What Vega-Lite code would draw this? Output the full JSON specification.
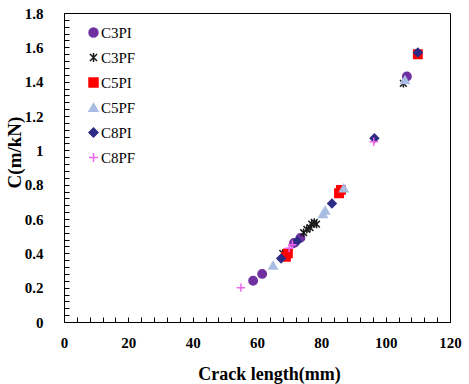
{
  "$schema": "https://vega.github.io/schema/vega-lite/v6.json",
  "width": 386,
  "height": 309,
  "autosize": {"type": "none"},
  "padding": {"left": 64, "top": 13, "right": 19, "bottom": 62},
  "background": "white",
  "config": {
    "view": {"stroke": "black", "strokeWidth": 1},
    "font": "Liberation Serif"
  },
  "data": {
    "values": [
      {"series": "C3PI", "len": 58.8, "c": 0.24},
      {"series": "C3PI", "len": 61.6, "c": 0.28},
      {"series": "C3PI", "len": 71.5, "c": 0.46},
      {"series": "C3PI", "len": 73.5, "c": 0.49},
      {"series": "C3PI", "len": 106.6, "c": 1.43},
      {"series": "C3PF", "len": 68.0, "c": 0.40},
      {"series": "C3PF", "len": 74.5, "c": 0.52},
      {"series": "C3PF", "len": 75.5, "c": 0.54},
      {"series": "C3PF", "len": 76.5, "c": 0.55},
      {"series": "C3PF", "len": 77.0, "c": 0.57},
      {"series": "C3PF", "len": 77.8, "c": 0.58},
      {"series": "C3PF", "len": 78.5, "c": 0.57},
      {"series": "C3PF", "len": 105.5, "c": 1.39},
      {"series": "C5PI", "len": 69.0, "c": 0.38},
      {"series": "C5PI", "len": 69.6, "c": 0.40},
      {"series": "C5PI", "len": 85.5, "c": 0.75},
      {"series": "C5PI", "len": 86.1, "c": 0.77},
      {"series": "C5PI", "len": 110.0, "c": 1.56},
      {"series": "C5PF", "len": 65.0, "c": 0.33},
      {"series": "C5PF", "len": 80.5, "c": 0.63},
      {"series": "C5PF", "len": 81.2, "c": 0.65},
      {"series": "C5PF", "len": 87.0, "c": 0.78},
      {"series": "C5PF", "len": 106.0, "c": 1.41},
      {"series": "C8PI", "len": 67.5, "c": 0.37},
      {"series": "C8PI", "len": 72.5, "c": 0.47},
      {"series": "C8PI", "len": 83.3, "c": 0.69},
      {"series": "C8PI", "len": 96.5, "c": 1.07},
      {"series": "C8PI", "len": 110.0, "c": 1.57},
      {"series": "C8PF", "len": 55.0, "c": 0.20},
      {"series": "C8PF", "len": 70.0, "c": 0.43},
      {"series": "C8PF", "len": 71.0, "c": 0.45},
      {"series": "C8PF", "len": 96.3, "c": 1.05}
    ]
  },
  "mark": {"type": "point", "filled": true, "opacity": 1, "strokeWidth": 1.5, "size": 70},
  "encoding": {
    "x": {
      "field": "len", "type": "quantitative",
      "scale": {"domain": [0, 120], "nice": false, "zero": false},
      "axis": {
        "title": "Crack length(mm)",
        "titleFont": "Liberation Serif", "titleFontSize": 18, "titleFontWeight": "bold", "titleColor": "black",
        "titleX": 205, "titleY": 52, "titleAlign": "center", "titleBaseline": "middle",
        "labelFont": "Liberation Serif", "labelFontSize": 15, "labelFontWeight": "bold", "labelColor": "black",
        "values": [0,4,8,12,16,20,24,28,32,36,40,44,48,52,56,60,64,68,72,76,80,84,88,92,96,100,104,108,112,116,120],
        "labelExpr": "datum.value % 20 === 0 ? datum.label : ''",
        "tickSize": -5, "tickColor": "black", "domainColor": "black",
        "labelPadding": 18, "grid": false, "labelFlush": false
      }
    },
    "y": {
      "field": "c", "type": "quantitative",
      "scale": {"domain": [0, 1.8], "nice": false, "zero": false},
      "axis": {
        "title": "C(m/kN)",
        "titleFont": "Liberation Serif", "titleFontSize": 19, "titleFontWeight": "bold", "titleColor": "black",
        "titleX": -50, "titleY": 139, "titleAlign": "center", "titleBaseline": "middle", "titleAngle": -90,
        "labelFont": "Liberation Serif", "labelFontSize": 15, "labelFontWeight": "bold", "labelColor": "black",
        "values": [0,0.04,0.08,0.12,0.16,0.2,0.24,0.28,0.32,0.36,0.4,0.44,0.48,0.52,0.56,0.6,0.64,0.68,0.72,0.76,0.8,0.84,0.88,0.92,0.96,1,1.04,1.08,1.12,1.16,1.2,1.24,1.28,1.32,1.36,1.4,1.44,1.48,1.52,1.56,1.6,1.64,1.68,1.72,1.76,1.8],
        "labelExpr": "abs(datum.value*5 - round(datum.value*5)) < 0.001 ? format(datum.value, '~g') : ''",
        "tickSize": -5, "tickColor": "black", "domainColor": "black",
        "labelPadding": 26, "grid": false, "labelFlush": false
      }
    },
    "color": {
      "field": "series", "type": "nominal",
      "scale": {
        "domain": ["C3PI", "C3PF", "C5PI", "C5PF", "C8PI", "C8PF"],
        "range": ["#7030A0", "#1a1a1a", "#FF0000", "#A9BDE2", "#2E2C86", "#EE66EE"]
      },
      "legend": {
        "title": null, "orient": "none", "legendX": 22, "legendY": 12,
        "labelFont": "Liberation Serif", "labelFontSize": 15, "labelColor": "black",
        "rowPadding": 9, "symbolSize": 80, "labelOffset": 0, "symbolStrokeWidth": 1.5
      }
    },
    "stroke": {
      "field": "series", "type": "nominal",
      "scale": {
        "domain": ["C3PI", "C3PF", "C5PI", "C5PF", "C8PI", "C8PF"],
        "range": ["#7030A0", "#1a1a1a", "#FF0000", "#A9BDE2", "#2E2C86", "#EE66EE"]
      },
      "legend": null
    },
    "shape": {
      "field": "series", "type": "nominal",
      "scale": {
        "domain": ["C3PI", "C3PF", "C5PI", "C5PF", "C8PI", "C8PF"],
        "range": ["circle", "M-0.8,-0.8L0.8,0.8M-0.8,0.8L0.8,-0.8M0,-1L0,1", "square", "triangle-up", "diamond", "M-1,0L1,0M0,-1L0,1"]
      }
    }
  }
}
